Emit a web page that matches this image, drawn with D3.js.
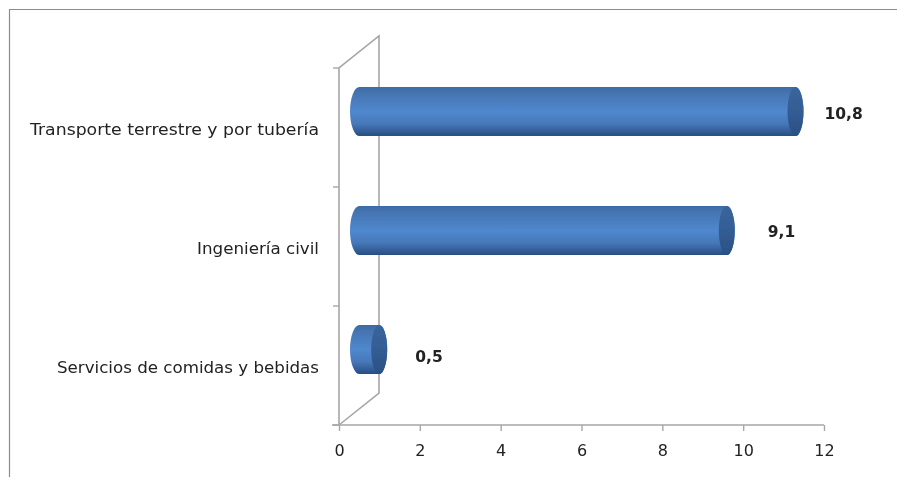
<!DOCTYPE html>
<html><head><meta charset="utf-8">
<script src="https://cdn.jsdelivr.net/npm/d3@7/dist/d3.min.js"></script>
<style>html,body{margin:0;padding:0;background:#fff}svg{display:block}text{font-family:"DejaVu Sans",sans-serif;fill:#222}</style>
</head><body><div id="c"></div>
<script>
const categories = ["Transporte terrestre y por tubería","Ingeniería civil","Servicios de comidas y bebidas"];
const values = [10.8,9.1,0.5];
const valueLabels = ["10,8","9,1","0,5"];
const xTicks = [0,2,4,6,8,10,12];

const W=897,H=477;
const svg=d3.select("#c").append("svg").attr("width",W).attr("height",H);
const defs=svg.append("defs");
const f=defs.append("filter").attr("id","soft").attr("x","-2%").attr("y","-2%").attr("width","104%").attr("height","104%");
f.append("feGaussianBlur").attr("stdDeviation",0.5);
const g1=defs.append("linearGradient").attr("id","body").attr("x1",0).attr("y1",0).attr("x2",0).attr("y2",1);
[[0,"#3d6ba6"],[0.12,"#4574b0"],[0.5,"#5088cf"],[0.75,"#4678b8"],[0.93,"#305a92"],[1,"#284d80"]]
  .forEach(([o,c])=>g1.append("stop").attr("offset",o).attr("stop-color",c));
const g2=defs.append("linearGradient").attr("id","cap").attr("x1",0).attr("y1",0).attr("x2",0).attr("y2",1);
[[0,"#3a659c"],[0.5,"#335d94"],[1,"#2a5084"]]
  .forEach(([o,c])=>g2.append("stop").attr("offset",o).attr("stop-color",c));

const root=svg.append("g").attr("filter","url(#soft)");
const grey="#a6a6a6";

// outer frame: left and top edges only
root.append("path").attr("d",`M9.5,${H+5} V9.5 H${W+5}`).attr("fill","none").attr("stroke","#8c8c8c").attr("stroke-width",1.2);

const x=d3.scaleLinear().domain([0,12]).range([339,824]);
const y=d3.scaleBand().domain(categories).range([68,425]);
const depthX=40, depthY=-32;
const barShift=20, barRiseY=-16, barH=49, rx=8, rxLeft=9.5;
const labelNudgeX=[29,41,36], labelNudgeY=[0,-1,5];
const catWidths=[289,122,262];

// side wall
const y0=y.range()[0], y1=y.range()[1];
root.append("path")
  .attr("d",`M${x(0)},${y1} V${y0} L${x(0)+depthX},${y0+depthY} V${y1+depthY} L${x(0)},${y1}`)
  .attr("fill","none").attr("stroke",grey).attr("stroke-width",1.6);

// y axis ticks
const yEdges=[...categories.map(c=>y(c)),y1];
root.selectAll(".yt").data(yEdges).join("line").attr("class","yt")
  .attr("x1",x(0)-6).attr("x2",x(0)).attr("y1",d=>d).attr("y2",d=>d)
  .attr("stroke",grey).attr("stroke-width",1.4);

// x axis
const ax=root.append("g").attr("transform",`translate(0,${y1})`)
  .call(d3.axisBottom(x).tickValues(xTicks).tickSize(6).tickPadding(14).tickFormat(d=>d));
ax.select(".domain").attr("stroke",grey).attr("stroke-width",1.6).attr("d",`M${x(0)-7},0H${x(12)}`);
ax.selectAll(".tick line").attr("stroke",grey).attr("stroke-width",1.4);
ax.selectAll(".tick text").attr("font-size",16).attr("fill","#222").style("font-family",'"DejaVu Sans",sans-serif');

// category labels
root.selectAll(".cat").data(categories).join("text").attr("class","cat")
  .attr("x",319).attr("y",d=>y(d)+y.bandwidth()/2+7)
  .attr("text-anchor","end").attr("font-size",16.6)
  .attr("textLength",(d,i)=>catWidths[i]).attr("lengthAdjust","spacingAndGlyphs").text(d=>d);

// cylinders
const cy=d=>y(d)+y.bandwidth()/2+barRiseY;
const bars=root.selectAll(".bar").data(categories).join("g").attr("class","bar");
bars.append("path").attr("fill","url(#body)").attr("d",(d,i)=>{
  const xa=x(0)+barShift+0.5, xb=x(values[i])+barShift, c=cy(d), h=barH/2;
  return `M${xa},${c-h} L${xb},${c-h} A${rx},${h} 0 0 1 ${xb},${c+h} L${xa},${c+h} A${rxLeft},${h} 0 0 1 ${xa},${c-h} Z`;
});
bars.append("ellipse").attr("fill","url(#cap)")
  .attr("cx",(d,i)=>x(values[i])+barShift).attr("cy",d=>cy(d)).attr("rx",rx).attr("ry",barH/2);

// value labels
root.selectAll(".val").data(categories).join("text").attr("class","val")
  .attr("x",(d,i)=>x(values[i])+barShift+labelNudgeX[i]).attr("y",(d,i)=>cy(d)+7+labelNudgeY[i])
  .attr("font-size",15.5).attr("font-weight",700).attr("fill","#111").text((d,i)=>valueLabels[i]);
</script></body></html>
